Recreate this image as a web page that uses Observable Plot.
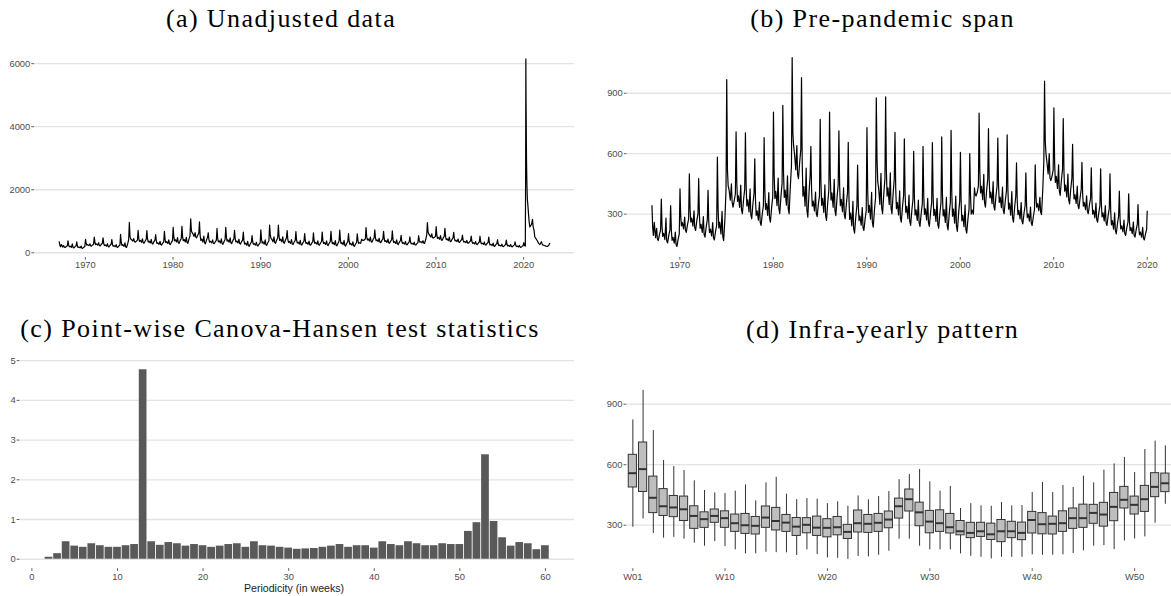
<!DOCTYPE html>
<html><head><meta charset="utf-8">
<script src="https://cdn.jsdelivr.net/npm/d3@7"></script>
<script src="https://cdn.jsdelivr.net/npm/@observablehq/plot@0.6"></script>
<style>
html,body{margin:0;padding:0;background:#fff;}
#root{position:relative;width:1171px;height:596px;overflow:hidden;background:#fff;}
</style></head>
<body><div id="root"></div>
<script>
// ---------------- DATA ----------------
// Weekly series (thousands), sampled at a few weeks of each year 1967-2019
const years = d3.range(1967, 2020);
const slotWeeks = [2, 6, 10, 15, 22, 28, 32, 37, 44, 50];
const peakW02 = [343,375,343,426,500,476,418,583,968,708, 703,575,680,807,840,1077,978,636,771,807, 713,656,544,729,877,882,706,674,612,636, 655,683,716,607,600,802,724,678,694,555, 505,545,960,827,774,646,557,530,525,500, 414,401,348];
const valW06 = [235,240,217,292,326,296,265,326,520,456, 439,370,420,494,506,700,548,420,460,488, 443,377,343,423,575,522,429,407,381,390, 392,397,405,358,400,512,474,445,425,367, 343,392,660,558,512,448,399,363,351,315, 278,268,239];
const valW10 = [195,190,170,242,261,230,209,231,440,363, 341,294,323,378,383,640,389,340,344,370, 342,274,268,309,460,389,327,309,295,299, 294,291,290,266,300,405,381,358,325,297, 283,335,600,458,414,375,340,300,286,247, 227,218,198];
const valW15 = [260,205,185,258,281,250,226,260,420,391, 371,317,352,413,420,600,437,365,379,406, 373,305,291,344,429,430,358,339,321,326, 324,323,325,294,320,438,409,385,355,319, 301,352,560,488,444,397,358,319,306,268, 242,233,211];
const valW22 = [183,174,156,227,241,209,192,202,370,334, 311,270,294,342,345,520,340,316,309,334, 312,242,245,275,348,348,296,278,269,271, 264,259,255,238,300,372,352,332,295,276, 265,318,500,428,385,353,322,282,266,226, 212,203,186];
const valW28 = [230,280,211,286,317,288,258,314,450,444, 426,360,407,479,490,640,528,410,445,473, 430,364,333,408,503,505,416,395,370,378, 379,383,390,346,430,498,461,434,412,358, 335,384,600,545,499,439,391,355,342,306, 271,261,234];
const valW32 = [178,168,150,221,233,200,184,190,360,322, 298,261,281,327,329,500,320,305,294,319, 299,228,235,260,331,331,282,265,258,259, 251,245,240,226,400,358,340,321,282,267, 257,310,480,415,372,343,315,274,258,217, 205,197,181];
const valW37 = [169,157,140,210,219,186,172,169,335,302, 277,244,260,302,302,476,285,288,269,293, 277,206,219,235,302,302,260,244,239,239, 230,222,215,206,390,335,320,302,260,252, 244,298,467,393,351,327,302,260,244,202, 194,186,172];
const valW44 = [200,196,177,249,270,238,216,280,370,375, 354,304,336,393,440,560,410,351,359,386, 355,287,278,324,405,406,340,321,306,310, 307,305,305,278,410,419,393,370,338,307, 291,420,490,471,427,384,348,309,295,256, 234,225,204];
const valW50 = [221,222,201,275,303,273,246,420,400,424, 405,343,386,454,540,620,493,392,420,447, 408,341,317,383,475,476,394,373,351,358, 358,360,365,326,440,475,441,415,390,343, 322,560,520,523,478,423,379,341,328,291, 260,251,225];

// 2020 onwards (pandemic period)
const covidT = [2020.00,2020.02,2020.10,2020.19,2020.23,2020.25,2020.27,2020.29,2020.31,2020.33,2020.37,2020.42,2020.47,2020.55,2020.62,2020.70,2020.80,2020.90,2021.01,2021.08,2021.18,2021.27,2021.40,2021.54,2021.70,2021.85,2022.02,2022.15,2022.35,2022.55,2022.70,2022.85,2022.98];
const covidV = [315,320,230,210,2900,6150,4970,4270,3490,2850,2200,1700,1550,1250,1000,820,860,900,1060,830,720,500,450,390,300,260,350,250,230,210,200,230,300];

// Canova-Hansen statistics by periodicity
const chPeriods = d3.range(2, 61);
const chValues = [0.05,0.14,0.44,0.33,0.30,0.39,0.34,0.30,0.30,0.34,0.37,4.77,0.44,0.35,0.42,0.39,0.33,0.37,0.34,0.30,0.33,0.37,0.39,0.30,0.44,0.34,0.33,0.30,0.28,0.25,0.26,0.27,0.30,0.33,0.37,0.30,0.34,0.34,0.28,0.44,0.37,0.34,0.44,0.39,0.34,0.34,0.39,0.37,0.37,0.70,0.92,2.63,0.95,0.54,0.33,0.42,0.39,0.24,0.34];

// Box plot statistics by week W01..W53
const boxWeeks = d3.range(1, 54);
const boxLo  = [290,331,259,236,240,231,211,196,219,194,178,158,158,166,164,163,150,178,155,138,136,131,145,143,151,171,231,231,196,178,178,178,158,146,141,133,141,141,141,153,151,151,153,160,173,196,199,179,222,232,242,310,404];
const boxQ1  = [487,465,360,346,340,321,282,287,312,287,267,257,254,287,274,267,247,260,247,240,250,232,264,262,267,285,333,368,295,260,267,259,250,236,242,227,216,236,226,259,255,254,267,282,287,307,293,320,383,353,366,439,464];
const boxMed = [558,578,436,394,388,379,346,330,346,335,310,300,297,338,321,313,293,302,288,287,290,267,310,307,312,328,394,429,364,318,310,290,270,262,270,255,270,270,262,326,305,307,310,335,335,361,353,391,426,401,429,490,508];
const boxQ3  = [649,710,541,479,445,442,394,364,378,369,353,356,341,393,386,351,336,335,343,330,341,302,373,351,356,368,432,477,412,371,374,356,321,312,312,308,326,317,313,366,360,343,369,383,402,401,411,460,490,442,495,558,556];
const boxHi  = [822,968,769,621,591,571,520,472,460,457,469,500,421,510,538,454,427,432,429,407,416,394,445,426,442,467,526,551,576,515,469,492,383,407,396,394,412,396,398,462,512,462,497,487,543,510,573,604,636,561,675,717,693];

// Tick values and labels
const yearTicksA = [1970, 1980, 1990, 2000, 2010, 2020];
const yTicksA = [0, 2000, 4000, 6000];
const yTicksB = [300, 600, 900];
const periodTicks = [0, 10, 20, 30, 40, 50, 60];
const yTicksC = [0, 1, 2, 3, 4, 5];
const weekTicks = [1, 10, 20, 30, 40, 50];
const weekTickLabels = ["W01", "W10", "W20", "W30", "W40", "W50"];
const panelTitles = ["(a) Unadjusted data", "(b) Pre-pandemic span", "(c) Point-wise Canova-Hansen test statistics", "(d) Infra-yearly pattern"];
const xTitleC = "Periodicity (in weeks)";

// ---------------- TABLES ----------------
const slotCols = [peakW02, valW06, valW10, valW15, valW22, valW28, valW32, valW37, valW44, valW50];
const series = [];
years.forEach((y, i) => {
  slotWeeks.forEach((w, j) => series.push({t: y + (w - 1) / 52, v: slotCols[j][i]}));
});
const covid = covidT.map((t, i) => ({t, v: covidV[i]}));
const fullSeries = series.concat(covid);
const preSeries = series.concat([covid[0]]);
const chData = chPeriods.map((p, i) => ({p, v: chValues[i]}));
const boxData = boxWeeks.map((w, i) => ({w, lo: boxLo[i], q1: boxQ1[i], med: boxMed[i], q3: boxQ3[i], hi: boxHi[i]}));

// ---------------- STYLE ----------------
const root = document.getElementById("root");
const baseStyle = {fontFamily: '"Liberation Sans", Arial, sans-serif', fontSize: "9.4px", color: "#4d4d4d", background: "transparent", overflow: "visible"};
const grid = {stroke: "#e3e3e3", strokeOpacity: 1, strokeWidth: 1.3};
const ax = {tickSize: 2.7, tickPadding: 1.5, stroke: "#333", strokeWidth: 0.8, label: null};
function place(svg, left, top) {
  svg.style.position = "absolute";
  svg.style.left = left + "px";
  svg.style.top = top + "px";
  root.appendChild(svg);
}

// (a) Unadjusted data
place(Plot.plot({
  width: 585, height: 290, marginLeft: 34, marginRight: 11, marginTop: 49, marginBottom: 33,
  style: baseStyle,
  x: {domain: [1964.2, 2025.8], axis: null},
  y: {domain: [-150, 6450], axis: null},
  marks: [
    Plot.gridY(yTicksA, grid),
    Plot.axisY(yTicksA, {...ax, tickFormat: d => String(d)}),
    Plot.axisX(yearTicksA, {...ax, tickFormat: d => String(d)}),
    Plot.line(fullSeries, {x: "t", y: "v", stroke: "#000", strokeWidth: 1.2})
  ]
}), 0, 0);

// (b) Pre-pandemic span
place(Plot.plot({
  width: 586, height: 290, marginLeft: 41.5, marginRight: 0, marginTop: 49, marginBottom: 33,
  style: baseStyle,
  x: {domain: [1964.35, 2022.6], axis: null},
  y: {domain: [85, 1117], axis: null},
  marks: [
    Plot.gridY(yTicksB, grid),
    Plot.axisY(yTicksB, {...ax, tickFormat: d => String(d)}),
    Plot.axisX(yearTicksA, {...ax, tickFormat: d => String(d)}),
    Plot.line(preSeries, {x: "t", y: "v", stroke: "#000", strokeWidth: 1.2})
  ]
}), 585, 0);

// (c) Canova-Hansen statistics
place(Plot.plot({
  width: 585, height: 306, marginLeft: 19.4, marginRight: 11, marginTop: 69.8, marginBottom: 27.8,
  style: baseStyle,
  x: {domain: [-1.4, 63.4], axis: null},
  y: {domain: [-0.2385, 5.0085], axis: null},
  marks: [
    Plot.gridY(yTicksC, grid),
    Plot.axisY(yTicksC, {...ax, tickFormat: d => String(d)}),
    Plot.axisX(periodTicks, {...ax, tickFormat: d => String(d)}),
    Plot.rect(chData, {x1: d => d.p - 0.45, x2: d => d.p + 0.45, y1: () => 0, y2: "v", fill: "#595959"})
  ]
}), 0, 290);

// (d) Infra-yearly pattern
place(Plot.plot({
  width: 586, height: 306, marginLeft: 41.2, marginRight: 0, marginTop: 69.8, marginBottom: 27.8,
  style: baseStyle,
  x: {domain: [0.4, 53.6], axis: null},
  y: {domain: [84.5, 1117.5], axis: null},
  marks: [
    Plot.gridY(yTicksB, grid),
    Plot.axisY(yTicksB, {...ax, tickFormat: d => String(d)}),
    Plot.axisX(weekTicks, {...ax, tickFormat: d => weekTickLabels[weekTicks.indexOf(d)]}),
    Plot.ruleX(boxData, {x: "w", y1: "lo", y2: "hi", stroke: "#333", strokeWidth: 1}),
    Plot.rect(boxData, {x1: d => d.w - 0.4, x2: d => d.w + 0.4, y1: "q1", y2: "q3", fill: "#bebebe", stroke: "#333", strokeWidth: 1}),
    Plot.ruleY(boxData, {y: "med", x1: d => d.w - 0.4, x2: d => d.w + 0.4, stroke: "#333", strokeWidth: 2})
  ]
}), 585, 290);

// ---------------- TITLES ----------------
const ns = "http://www.w3.org/2000/svg";
const ov = document.createElementNS(ns, "svg");
ov.setAttribute("width", 1171); ov.setAttribute("height", 596);
ov.style.position = "absolute"; ov.style.left = "0px"; ov.style.top = "0px"; ov.style.pointerEvents = "none";
const titlePos = [[281, 27], [882.6, 27], [280, 337], [882.6, 337.5]];
panelTitles.forEach((s, i) => {
  const t = document.createElementNS(ns, "text");
  t.setAttribute("x", titlePos[i][0]); t.setAttribute("y", titlePos[i][1]);
  t.setAttribute("text-anchor", "middle");
  t.setAttribute("font-family", '"Liberation Serif", "Times New Roman", serif');
  t.setAttribute("font-size", "26");
  t.setAttribute("letter-spacing", "1.4");
  t.setAttribute("fill", "#000");
  t.textContent = s;
  ov.appendChild(t);
});
const xt = document.createElementNS(ns, "text");
xt.setAttribute("x", 294); xt.setAttribute("y", 591.5);
xt.setAttribute("text-anchor", "middle");
xt.setAttribute("font-family", '"Liberation Sans", Arial, sans-serif');
xt.setAttribute("font-size", "10.6");
xt.setAttribute("fill", "#1a1a1a");
xt.textContent = xTitleC;
ov.appendChild(xt);
root.appendChild(ov);
</script>
</body></html>
